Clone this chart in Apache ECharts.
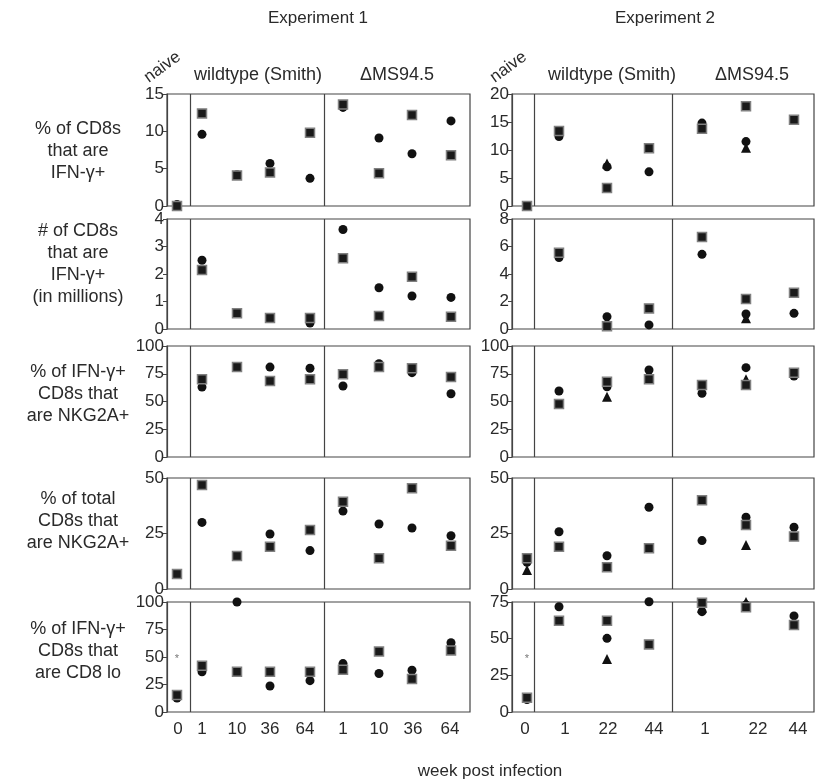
<!DOCTYPE html>
<html><head><meta charset="utf-8">
<script src="https://cdn.jsdelivr.net/npm/echarts@6/dist/echarts.min.js"></script>
<style>html,body{margin:0;padding:0;background:#fff}#c{width:821px;height:781px}</style>
</head><body><div id="c"></div>
<script>
// ---------------- DATA ----------------
// Experiment 1: naive, wildtype (Smith) weeks, ΔMS94.5 weeks
const exp1Categories = ['0','1','10','36','64','1','10','36','64'];
// Experiment 2
const exp2Categories = ['0','1','22','44','1','22','44'];

const rowTitles = [
  '% of CD8s\nthat are\nIFN-γ+',
  '# of CD8s\nthat are\nIFN-γ+\n(in millions)',
  '% of IFN-γ+\nCD8s that\nare NKG2A+',
  '% of total\nCD8s that\nare NKG2A+',
  '% of IFN-γ+\nCD8s that\nare CD8 lo'
];

// y-axis tick ranges
const exp1YMax = [15, 4, 100, 50, 100];
const exp1YStep = [5, 1, 25, 25, 25];
const exp2YMax = [20, 8, 100, 50, 75];
const exp2YStep = [5, 2, 25, 25, 25];

// Experiment 1 values (circle / square markers)
const e1PctIfnCircle   = [0.2, 9.6, 4.2, 5.7, 3.7, 13.2, 9.1, 7.0, 11.4];
const e1PctIfnSquare   = [0.0, 12.4, 4.1, 4.5, 9.8, 13.6, 4.4, 12.2, 6.8];
const e1NumIfnCircle   = [null, 2.5, 0.6, 0.42, 0.22, 3.62, 1.5, 1.2, 1.15];
const e1NumIfnSquare   = [null, 2.15, 0.57, 0.4, 0.4, 2.57, 0.47, 1.9, 0.45];
const e1NkgIfnCircle   = [null, 63, 81, 81, 80, 64, 84, 76, 57];
const e1NkgIfnSquare   = [null, 70, 81, 68.5, 70, 74.5, 81, 80, 72];
const e1NkgTotCircle   = [null, 30, 15, 24.8, 17.3, 35.1, 29.3, 27.5, 24];
const e1NkgTotSquare   = [6.75, 46.8, 14.9, 19, 26.6, 39.3, 13.8, 45.4, 19.5];
const e1Cd8loCircle    = [12.7, 36.6, 100, 23.6, 28.5, 44, 35, 38, 63];
const e1Cd8loSquare    = [15.5, 42, 36.6, 36.6, 36.6, 38.5, 55, 30, 56];
const e1Cd8loAsterisk  = [48];

// Experiment 2 values (circle / square / triangle markers)
const e2PctIfnCircle   = [0.1, 12.4, 7.0, 6.1, 14.8, 11.5, 15.4];
const e2PctIfnSquare   = [0.0, 13.4, 3.2, 10.3, 13.8, 17.8, 15.4];
const e2PctIfnTriangle = [null, null, 7.6, null, null, 10.4, null];
const e2NumIfnCircle   = [null, 5.2, 0.9, 0.3, 5.43, 1.09, 1.14];
const e2NumIfnSquare   = [null, 5.55, 0.2, 1.5, 6.7, 2.18, 2.64];
const e2NumIfnTriangle = [null, null, 0.6, null, null, 0.78, null];
const e2NkgIfnCircle   = [null, 59.5, 63.3, 78.4, 57.4, 80.5, 73];
const e2NkgIfnSquare   = [null, 47.7, 67.8, 70, 64.9, 64.9, 76];
const e2NkgIfnTriangle = [null, null, 54.3, null, null, 70, null];
const e2NkgTotCircle   = [12, 25.8, 15, 36.8, 21.8, 32.3, 27.8];
const e2NkgTotSquare   = [13.8, 19, 9.8, 18.3, 40, 28.8, 23.6];
const e2NkgTotTriangle = [8.6, null, null, null, null, 19.8, null];
const e2Cd8loCircle    = [8.5, 71.8, 50.2, 75.2, 68.4, 73, 65.5];
const e2Cd8loSquare    = [9.8, 62.2, 62.2, 46.1, 74.5, 71.4, 59.3];
const e2Cd8loTriangle  = [null, null, 36.1, null, 71, 75, null];
const e2Cd8loAsterisk  = [36];

// ---------------- LAYOUT ----------------
const FONT = '"Liberation Sans", Arial, Helvetica, sans-serif';
const TEXT = '#2a2a2a';
const colLeft = [167, 512];
const colWidth = [303, 302];
const rowTop = [94, 219, 346, 478, 602];
const rowHeight = [112, 110, 111, 111, 110];
// x positions (axis units = px from panel left) of marker columns and labels
const e1MarkX = [10, 35, 70, 103, 143, 176, 212, 245, 284];
const e1LabelX = [11, 35, 70, 103, 138, 176, 212, 246, 283];
const e1Dividers = [23, 157];
const e2MarkX = [15, 47, 95, 137, 190, 234, 282];
const e2LabelX = [13, 53, 96, 142, 193, 246, 286];
const e2Dividers = [22, 160];

const exps = [
  {cats: exp1Categories, markX: e1MarkX, labelX: e1LabelX, div: e1Dividers, yMax: exp1YMax, yStep: exp1YStep,
   rows: [
     [e1PctIfnCircle, e1PctIfnSquare, null],
     [e1NumIfnCircle, e1NumIfnSquare, null],
     [e1NkgIfnCircle, e1NkgIfnSquare, null],
     [e1NkgTotCircle, e1NkgTotSquare, null],
     [e1Cd8loCircle, e1Cd8loSquare, null]
   ], asterisk: e1Cd8loAsterisk},
  {cats: exp2Categories, markX: e2MarkX, labelX: e2LabelX, div: e2Dividers, yMax: exp2YMax, yStep: exp2YStep,
   rows: [
     [e2PctIfnCircle, e2PctIfnSquare, e2PctIfnTriangle],
     [e2NumIfnCircle, e2NumIfnSquare, e2NumIfnTriangle],
     [e2NkgIfnCircle, e2NkgIfnSquare, e2NkgIfnTriangle],
     [e2NkgTotCircle, e2NkgTotSquare, e2NkgTotTriangle],
     [e2Cd8loCircle, e2Cd8loSquare, e2Cd8loTriangle]
   ], asterisk: e2Cd8loAsterisk}
];

function pts(xs, vals) {
  const out = [];
  vals.forEach((v, i) => { if (v != null) out.push([xs[i], v]); });
  return out;
}

const grid = [], xAxis = [], yAxis = [], series = [];
exps.forEach((E, e) => {
  E.rows.forEach((R, r) => {
    const idx = grid.length;
    grid.push({left: colLeft[e], top: rowTop[r], width: colWidth[e], height: rowHeight[r],
      show: true, borderColor: '#444', borderWidth: 1.2, backgroundColor: 'transparent', containLabel: false});
    const bottom = r === 4;
    xAxis.push({type: 'value', gridIndex: idx, min: 0, max: colWidth[e],
      axisLine: {show: false}, axisTick: {show: false}, splitLine: {show: false},
      axisLabel: bottom ? {show: true, customValues: E.labelX, margin: 9,
        formatter: v => E.cats[E.labelX.indexOf(v)], fontFamily: FONT, fontSize: 17, color: TEXT} : {show: false}
    });
    yAxis.push({type: 'value', gridIndex: idx, min: 0, max: E.yMax[r], interval: E.yStep[r],
      axisLine: {show: true, lineStyle: {color: '#444', width: 1.2}},
      axisTick: {show: true, length: 4, inside: false, lineStyle: {color: '#444'}},
      splitLine: {show: false},
      axisLabel: {margin: 3, fontFamily: FONT, fontSize: 17, color: TEXT, showMinLabel: true, showMaxLabel: true}
    });
    series.push({type: 'scatter', xAxisIndex: idx, yAxisIndex: idx, clip: false, silent: true,
      symbol: 'circle', symbolSize: 9, itemStyle: {color: '#111', opacity: 1},
      data: pts(E.markX, R[0]), z: 2,
      markLine: {silent: true, symbol: 'none', label: {show: false}, animation: false,
        lineStyle: {color: '#444', width: 1.2, type: 'solid'},
        data: E.div.map(d => ({xAxis: d}))}
    });
    if (R[2]) {
      series.push({type: 'scatter', xAxisIndex: idx, yAxisIndex: idx, clip: false, silent: true,
        symbol: 'triangle', symbolSize: 10, itemStyle: {color: '#111', opacity: 1},
        data: pts(E.markX, R[2]), z: 3});
    }
    series.push({type: 'scatter', xAxisIndex: idx, yAxisIndex: idx, clip: false, silent: true,
      symbol: 'rect', symbolSize: 9, itemStyle: {color: '#1a1a1a', borderColor: '#808080', borderWidth: 1.5, opacity: 1},
      data: pts(E.markX, R[1]), z: 4});
    if (bottom) {
      series.push({type: 'scatter', xAxisIndex: idx, yAxisIndex: idx, clip: false, silent: true,
        symbol: 'circle', symbolSize: 1, itemStyle: {color: 'transparent'},
        label: {show: true, formatter: '*', position: 'inside', fontSize: 11, color: '#555', fontFamily: FONT},
        data: E.asterisk.map(v => [E.markX[0], v]), z: 5});
    }
  });
});

const graphic = [];
function txt(text, x, y, size, opts) {
  graphic.push(Object.assign({type: 'text', x: x, y: y, silent: true,
    style: Object.assign({text: text, font: size + 'px ' + FONT, fill: TEXT,
      align: 'center', verticalAlign: 'middle', textAlign: 'center', textVerticalAlign: 'middle'}, (opts && opts.style) || {})},
    (opts && opts.el) || {}));
}
txt('Experiment 1', 318, 18, 17);
txt('Experiment 2', 665, 18, 17);
txt('wildtype (Smith)', 258, 75, 18);
txt('ΔMS94.5', 397, 75, 18);
txt('wildtype (Smith)', 612, 75, 18);
txt('ΔMS94.5', 752, 75, 18);
const naiveOpts = {style: {align: 'left', textAlign: 'left', verticalAlign: 'bottom', textVerticalAlign: 'bottom'}, el: {rotation: 36 * Math.PI / 180}};
txt('naive', 151, 86, 17, naiveOpts);
txt('naive', 497, 86, 17, naiveOpts);
const rowCenters = [151, 264, 394, 521, 651];
rowTitles.forEach((t, i) => txt(t, 78, rowCenters[i], 18, {style: {lineHeight: 22}}));
txt('week post infection', 490, 771, 17);

const chart = echarts.init(document.getElementById('c'), null, {renderer: 'canvas'});
chart.setOption({animation: false, backgroundColor: '#fff', grid, xAxis, yAxis, series, graphic});
</script></body></html>
